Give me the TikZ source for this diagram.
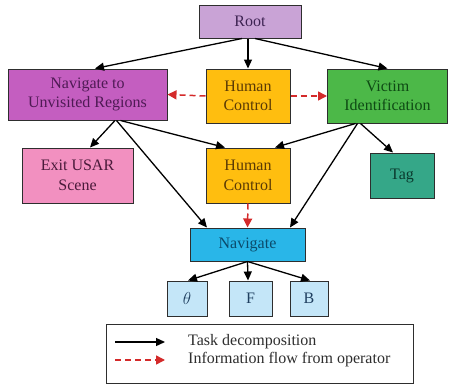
\documentclass[tikz,border=0pt]{standalone}
\usepackage{fontspec}
\setmainfont{Liberation Serif}
\usetikzlibrary{arrows.meta}
\definecolor{rootF}{HTML}{C9A3D6}\definecolor{rootT}{HTML}{3D2352}
\definecolor{nuF}{HTML}{C45EC0}\definecolor{nuT}{HTML}{4F1A55}
\definecolor{hcF}{HTML}{FFBE0F}\definecolor{hcT}{HTML}{5A3A05}
\definecolor{viF}{HTML}{4CB848}\definecolor{viT}{HTML}{0E4A14}
\definecolor{exF}{HTML}{F290C0}\definecolor{exT}{HTML}{4A1A3A}
\definecolor{tgF}{HTML}{35A788}\definecolor{tgT}{HTML}{0A3A2E}
\definecolor{nvF}{HTML}{29B6E8}\definecolor{nvT}{HTML}{0B4B6B}
\definecolor{smF}{HTML}{C4E6F8}\definecolor{smT}{HTML}{1F3F5F}
\definecolor{redA}{HTML}{D42A2A}
\definecolor{edge}{HTML}{2E2E2E}
\tikzset{
  box/.style={draw=edge, line width=1pt, rectangle, align=center, inner sep=0pt,
    font=\fontsize{16}{19.5}\selectfont},
  task/.style={line width=1.3pt, -{Triangle[length=9pt,width=8pt]}},
  info/.style={line width=1.5pt, redA, dash pattern=on 6pt off 4pt, -{Triangle[length=9pt,width=9pt]}},
}
\begin{document}
\begin{tikzpicture}[x=1pt,y=-1pt]
\useasboundingbox (0,0) rectangle (450,388);
\node[box, fill=rootF, text=rootT, minimum width=102pt, minimum height=33pt] (root) at (250,21.5) {Root};
\node[box, fill=nuF, text=nuT, minimum width=159pt, minimum height=51pt] (nu) at (87.5,94.5) {Navigate to\\Unvisited Regions};
\node[box, fill=hcF, text=hcT, minimum width=84pt, minimum height=54pt] (hc1) at (248,96) {Human\\Control};
\node[box, fill=viF, text=viT, minimum width=120pt, minimum height=54pt] (vi) at (387.5,96) {Victim\\Identification};
\node[box, fill=exF, text=exT, minimum width=111pt, minimum height=55pt] (ex) at (77.5,175.5) {Exit USAR\\Scene};
\node[box, fill=hcF, text=hcT, minimum width=84pt, minimum height=55pt] (hc2) at (248,175.5) {Human\\Control};
\node[box, fill=tgF, text=tgT, minimum width=64pt, minimum height=45pt] (tag) at (402,175.5) {Tag};
\node[box, fill=nvF, text=nvT, minimum width=115pt, minimum height=33pt] (nav) at (247.5,244.5) {Navigate};
\node[box, fill=smF, text=smT, minimum width=40pt, minimum height=35pt] (th) at (187,298.5) {$\theta$};
\node[box, fill=smF, text=smT, minimum width=43pt, minimum height=35pt] (f) at (250.5,298.5) {F};
\node[box, fill=smF, text=smT, minimum width=38pt, minimum height=35pt] (b) at (309,298.5) {B};
\node[draw=edge, line width=1pt, fill=white, minimum width=307pt, minimum height=59pt, inner sep=0pt] (leg) at (259.5,353.5) {};

\draw[task] ([xshift=-8pt]root.south) -- ([xshift=7.5pt]nu.north);
\draw[task] ([xshift=-2pt]root.south) -- (hc1.north);
\draw[task] ([xshift=5pt]root.south) -- (vi.north);
\draw[info] (hc1.west) -- (nu.east);
\draw[info] (hc1.east) -- (vi.west);
\draw[task] ([xshift=27.5pt]nu.south) -- ([xshift=12.5pt]ex.north);
\draw[task] ([xshift=29pt]nu.south) -- ([xshift=-40.5pt]nav.north);
\draw[task] ([xshift=33pt]nu.south) -- ([xshift=-23pt]hc2.north);
\draw[task] ([xshift=-32pt]vi.south) -- ([xshift=27pt]hc2.north);
\draw[task] ([xshift=-30pt]vi.south) -- ([xshift=42.5pt]nav.north);
\draw[task] ([xshift=-27pt]vi.south) -- ([xshift=-9pt]tag.north);
\draw[info] (hc2.south) -- (nav.north);
\draw[task] (nav.south) -- ([xshift=1pt]th.north);
\draw[task] (nav.south) -- ([xshift=-2.5pt]f.north);
\draw[task] (nav.south) -- ([xshift=1pt]b.north);

\coordinate (l1a) at (115,342); \coordinate (l1b) at (165,342);
\coordinate (l2a) at (115,360); \coordinate (l2b) at (165,360);
\draw[task] (l1a) -- (l1b);
\draw[info] (l2a) -- (l2b);
\node[anchor=west, inner sep=0pt, text=edge, font=\fontsize{16}{18}\selectfont] (t1) at (188,342) {Task decomposition};
\node[anchor=west, inner sep=0pt, text=edge, font=\fontsize{16}{18}\selectfont] (t2) at (188,360) {Information flow from operator};
\end{tikzpicture}
\end{document}
